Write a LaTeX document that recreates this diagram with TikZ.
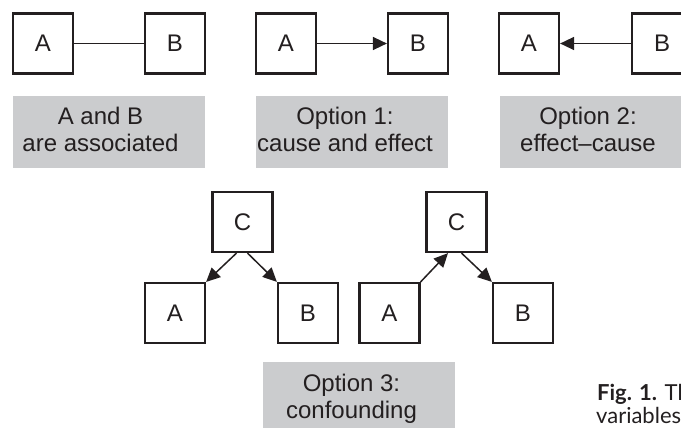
\documentclass[tikz,border=0pt]{standalone}
\usepackage{fontspec}
\setmainfont{Liberation Sans}
\newfontfamily\capfont{Lato}
\usetikzlibrary{arrows.meta}
\definecolor{ink}{HTML}{231F20}
\definecolor{panel}{HTML}{CBCCCE}
\tikzset{
  varbox/.style={draw=ink, line width=2.2pt, fill=white, minimum size=60pt, inner sep=0pt,
    text=ink, font=\fontsize{24}{27}\selectfont},
  graybox/.style={fill=panel, draw=none, minimum width=192pt, minimum height=72pt, inner sep=0pt},
  gtext/.style={anchor=base, inner sep=0pt, text=ink, font=\fontsize{24}{27}\selectfont},
  link/.style={draw=ink, line width=1.5pt},
  arr/.style={link, -{Triangle[length=14pt,width=13pt]}},
  captext/.style={anchor=base west, inner sep=0pt, text=ink, font=\capfont\fontsize{22}{22}\selectfont},
}
\begin{document}
\begin{tikzpicture}[x=1pt,y=-1pt]
\useasboundingbox (0,0) rectangle (681,428);
\clip (0,0) rectangle (681,428);
% row 1
\node[varbox] (a1) at (43,43.5) {A};
\node[varbox] (b1) at (175,43.5) {B};
\node[varbox] (a2) at (286,43.5) {A};
\node[varbox] (b2) at (418,43.5) {B};
\node[varbox] (a3) at (529,43.5) {A};
\node[varbox] (b3) at (662,43.5) {B};
\draw[link] (a1) -- (b1);
\draw[arr] (a2) -- (b2);
\draw[arr] (b3) -- (a3);
% gray labels row 1
\node[graybox] (g1) at (109,132) {};
\node[graybox] (g2) at (352,132) {};
\node[graybox] (g3) at (596,132) {};
\node[gtext] (t1) at (100.5,124.5) {\renewcommand\arraystretch{1}\begin{tabular}[t]{@{}c@{}}A and B\\are associated\end{tabular}};
\node[gtext] (t2) at (345,124.5) {\renewcommand\arraystretch{1}\begin{tabular}[t]{@{}c@{}}Option 1:\\cause and effect\end{tabular}};
\node[gtext] (t3) at (588,124.5) {\renewcommand\arraystretch{1}\begin{tabular}[t]{@{}c@{}}Option 2:\\effect–cause\end{tabular}};
% row 2
\node[varbox] (c1) at (242.5,222) {C};
\node[varbox] (a4) at (175,313) {A};
\node[varbox] (b4) at (308,313) {B};
\node[varbox] (c2) at (456.5,222) {C};
\node[varbox] (a5) at (389.5,313) {A};
\node[varbox] (b5) at (523,313) {B};
\draw[arr] ([xshift=-6pt]c1.south) -- (a4.north east);
\draw[arr] ([xshift=5pt]c1.south) -- (b4.north west);
\draw[arr] (a5.north east) -- ([xshift=-8.5pt]c2.south);
\draw[arr] ([xshift=5pt]c2.south) -- (b5.north west);
\node[graybox] (g4) at (359,398) {};
\node[gtext] (t4) at (351.5,391) {\renewcommand\arraystretch{1}\begin{tabular}[t]{@{}c@{}}Option 3:\\confounding\end{tabular}};
% caption
\node[captext] (cap1) at (597,400) {\textbf{Fig. 1.} Th};
\node[captext] (cap2) at (596,423) {variables};
\end{tikzpicture}
\end{document}
